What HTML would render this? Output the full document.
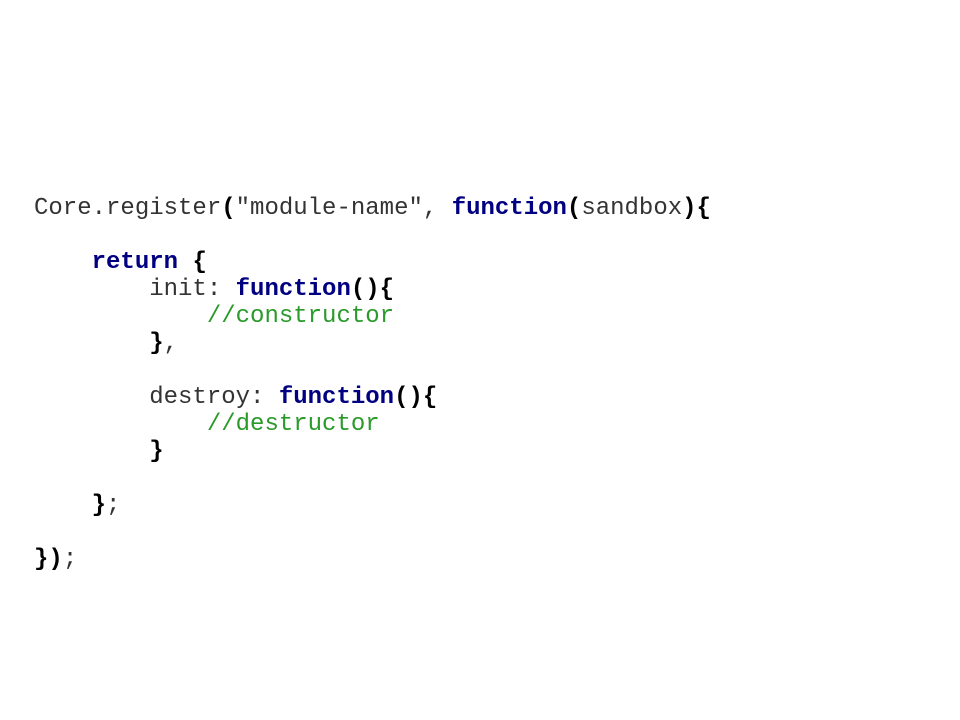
<!DOCTYPE html>
<html><head><meta charset="utf-8"><style>
html,body{margin:0;padding:0;background:#fff;width:960px;height:720px;overflow:hidden}
pre{position:absolute;left:34px;top:195px;margin:0;font-family:"Liberation Mono",monospace;font-size:24px;line-height:27px;color:#333}
.k{color:#000080;font-weight:bold}
.b{color:#000;font-weight:bold}
.c{color:#2a9a2a}
</style></head><body>
<pre>Core.register<span class="b">(</span>"module-name", <span class="k">function</span><span class="b">(</span>sandbox<span class="b">){</span>

    <span class="k">return</span> <span class="b">{</span>
        init: <span class="k">function</span><span class="b">(){</span>
            <span class="c">//constructor</span>
        <span class="b">}</span>,

        destroy: <span class="k">function</span><span class="b">(){</span>
            <span class="c">//destructor</span>
        <span class="b">}</span>

    <span class="b">}</span>;

<span class="b">})</span>;</pre>
</body></html>
